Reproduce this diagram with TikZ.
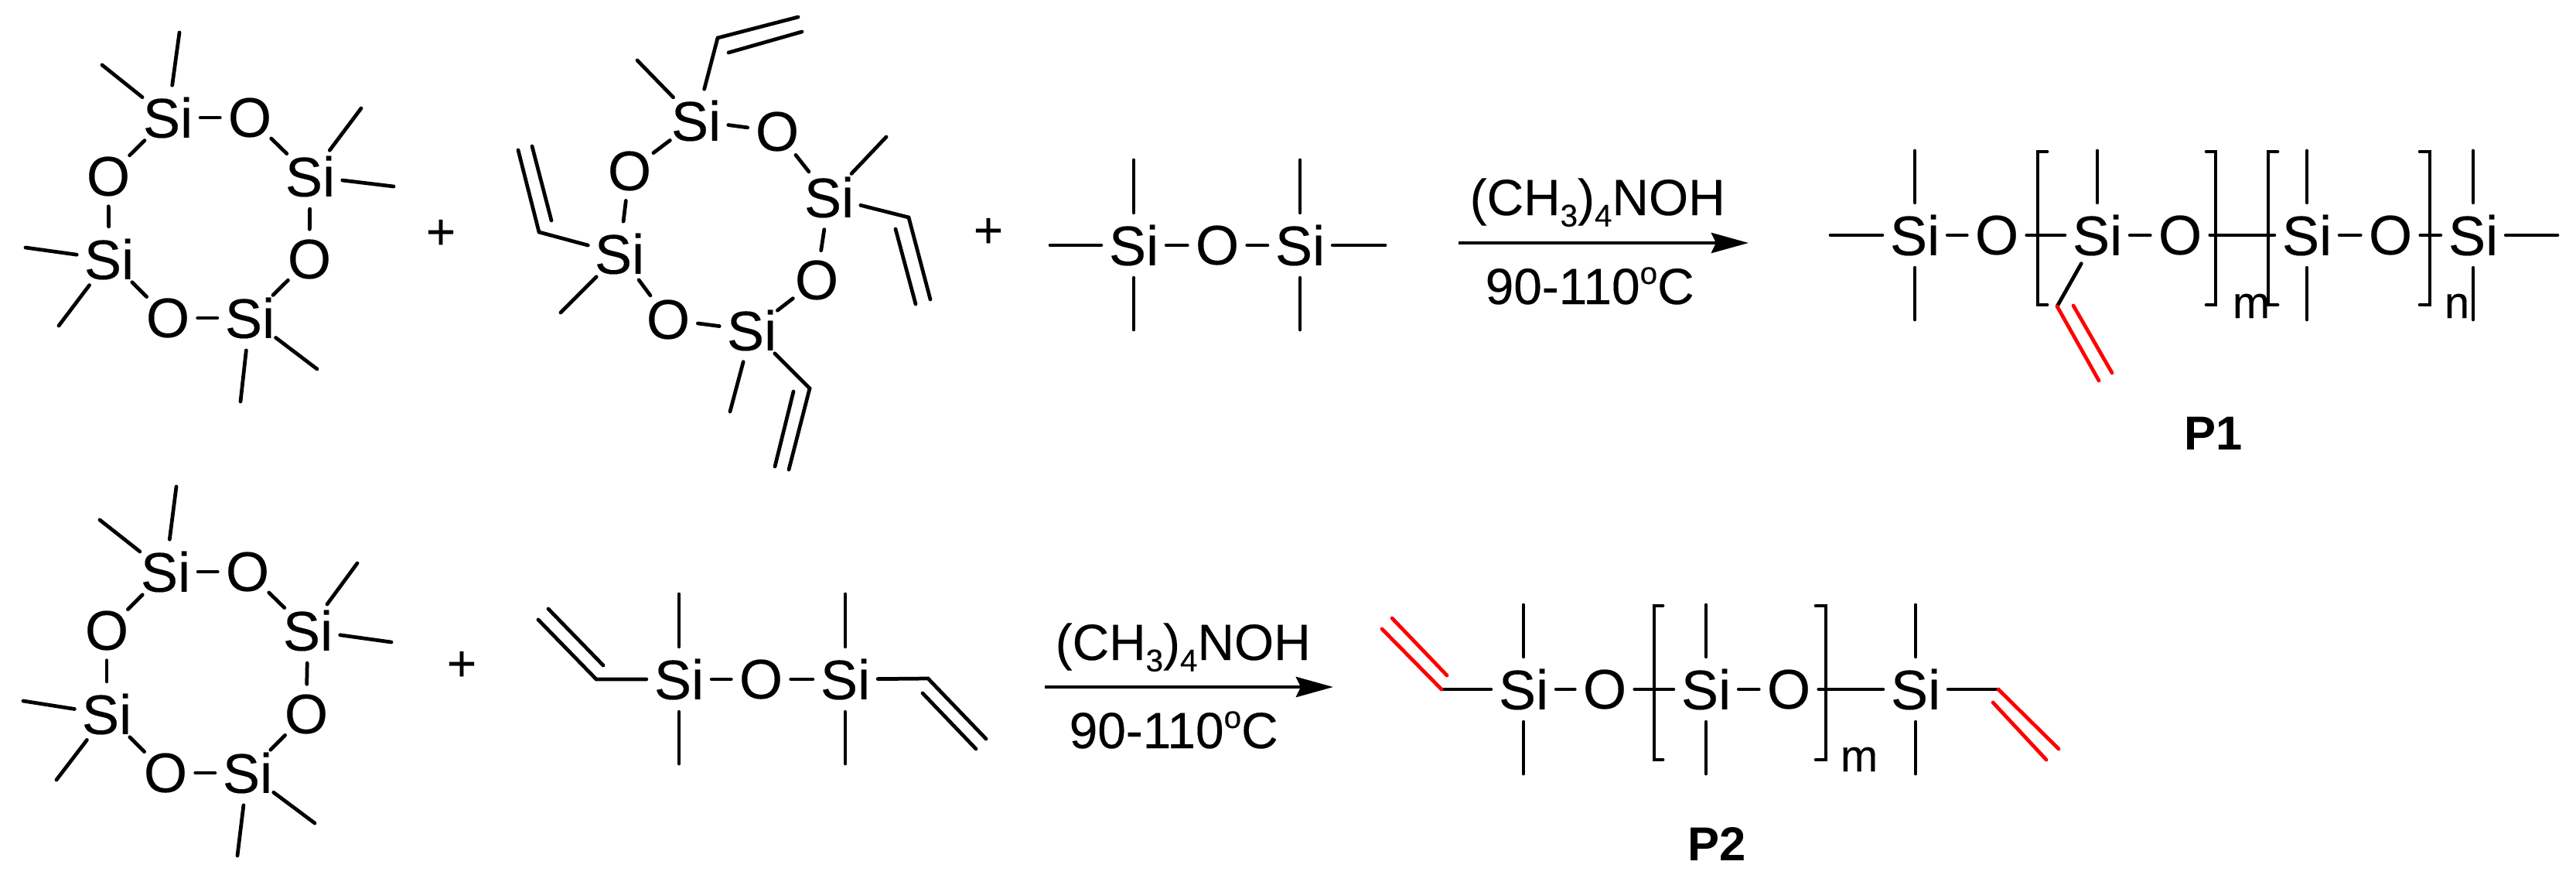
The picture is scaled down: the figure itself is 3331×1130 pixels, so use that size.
\documentclass[tikz,border=0pt]{standalone}
\usepackage{fontspec}
\setmainfont{Liberation Sans}
\newfontfamily\heavyfont[FakeBold=0.25]{Liberation Sans}
\usetikzlibrary{arrows.meta}
\definecolor{vinylred}{RGB}{255,0,0}
\newlength{\pxu}\setlength{\pxu}{0.01cm}
\newcommand{\subdigit}[1]{\raisebox{-14.7\pxu}{\fontsize{11.5pt}{11.5pt}\selectfont #1}}
\newcommand{\reagent}{(CH\subdigit{3})\subdigit{4}NOH}
\newcommand{\temper}{90-110\raisebox{26\pxu}{\fontsize{11.5pt}{11.5pt}\selectfont o}C}
\tikzset{
  atom/.style={circle,inner sep=0pt,minimum size=0.76cm,font=\heavyfont\fontsize{20.5pt}{20.5pt}\selectfont},
  bond/.style={line width=1.35pt,line cap=round},
  vinyl/.style={line width=1.35pt,line cap=round,draw=vinylred},
  plain/.style={inner sep=0pt,font=\heavyfont\fontsize{18.7pt}{18.7pt}\selectfont},
  rxn/.style={line width=1.4pt,-{Stealth[length=0.48cm,width=0.26cm,inset=0.06cm]}},
  subs/.style={inner sep=0pt,anchor=base,font=\heavyfont\fontsize{16.5pt}{16.5pt}\selectfont},
  tag/.style={inner sep=0pt,font=\fontsize{17.5pt}{17.5pt}\selectfont\bfseries},
}
\begin{document}
\begin{tikzpicture}[x=0.01cm,y=-0.01cm]
\useasboundingbox (0,0) rectangle (3331,1130);

% --- ring 1
\node[atom] (aSiT) at (217,152) {Si};
\node[atom] (aOT)  at (323,152) {O};
\node[atom] (aSiR) at (401,228) {Si};
\node[atom] (aOL)  at (140,228) {O};
\node[atom] (aSiL) at (141,335) {Si};
\node[atom] (aOR)  at (400,335) {O};
\node[atom] (aOB)  at (217,411) {O};
\node[atom] (aSiB) at (323,411) {Si};
\draw[bond] (aSiT)--(aOT); \draw[bond] (aOT)--(aSiR); \draw[bond] (aSiR)--(aOR);
\draw[bond] (aOR)--(aSiB); \draw[bond] (aSiB)--(aOB); \draw[bond] (aOB)--(aSiL);
\draw[bond] (aSiL)--(aOL); \draw[bond] (aOL)--(aSiT);
\coordinate (am1) at (132,84);  \coordinate (am2) at (232,42);
\coordinate (am3) at (467,140); \coordinate (am4) at (509,241);
\coordinate (am5) at (33,320);  \coordinate (am6) at (76,421);
\coordinate (am7) at (311,519); \coordinate (am8) at (410,477);
\draw[bond] (aSiT)--(am1); \draw[bond] (aSiT)--(am2);
\draw[bond] (aSiR)--(am3); \draw[bond] (aSiR)--(am4);
\draw[bond] (aSiL)--(am5); \draw[bond] (aSiL)--(am6);
\draw[bond] (aSiB)--(am7); \draw[bond] (aSiB)--(am8);
\node[plain] (plusA) at (570,303) {+};

% --- ring 2 with vinyls
\node[atom] (bSiT) at (900,156) {Si};
\node[atom] (bOT)  at (1005,170) {O};
\node[atom] (bSiR) at (1072,255) {Si};
\node[atom] (bOL)  at (814,221) {O};
\node[atom] (bSiL) at (801,328) {Si};
\node[atom] (bOR)  at (1056,362) {O};
\node[atom] (bOB)  at (864,413) {O};
\node[atom] (bSiB) at (972,427) {Si};
\draw[bond] (bSiT)--(bOT); \draw[bond] (bOT)--(bSiR); \draw[bond] (bSiR)--(bOR);
\draw[bond] (bOR)--(bSiB); \draw[bond] (bSiB)--(bOB); \draw[bond] (bOB)--(bSiL);
\draw[bond] (bSiL)--(bOL); \draw[bond] (bOL)--(bSiT);
\coordinate (bm1) at (824,78);  \coordinate (bm2) at (1146,177);
\coordinate (bm3) at (725,404); \coordinate (bm4) at (944,532);
\draw[bond] (bSiT)--(bm1); \draw[bond] (bSiR)--(bm2);
\draw[bond] (bSiL)--(bm3); \draw[bond] (bSiB)--(bm4);
\coordinate (bv1a) at (928,49);  \coordinate (bv1b) at (1032,22);
\coordinate (bv1c) at (942,68);  \coordinate (bv1d) at (1037,41);
\draw[bond] (bSiT)--(bv1a)--(bv1b); \draw[bond] (bv1c)--(bv1d);
\coordinate (bv2a) at (697,300); \coordinate (bv2b) at (670,194);
\coordinate (bv2c) at (713,285); \coordinate (bv2d) at (688,189);
\draw[bond] (bSiL)--(bv2a)--(bv2b); \draw[bond] (bv2c)--(bv2d);
\coordinate (bv3a) at (1047,502); \coordinate (bv3b) at (1020,607);
\coordinate (bv3c) at (1026,506); \coordinate (bv3d) at (1002,603);
\draw[bond] (bSiB)--(bv3a)--(bv3b); \draw[bond] (bv3c)--(bv3d);
\coordinate (bv4a) at (1175,281); \coordinate (bv4b) at (1203,387);
\coordinate (bv4c) at (1158,296); \coordinate (bv4d) at (1184,393);
\draw[bond] (bSiR)--(bv4a)--(bv4b); \draw[bond] (bv4c)--(bv4d);
\node[plain] (plusB) at (1278,301) {+};

% --- disiloxane
\node[atom] (cSi1) at (1466,317) {Si};
\node[atom] (cO)   at (1574,317) {O};
\node[atom] (cSi2) at (1681,317) {Si};
\draw[bond] (cSi1)--(cO); \draw[bond] (cO)--(cSi2);
\coordinate (cL) at (1358,317); \coordinate (cR) at (1791,317);
\coordinate (cT1) at (1466,207); \coordinate (cB1) at (1466,426);
\coordinate (cT2) at (1681,207); \coordinate (cB2) at (1681,426);
\draw[bond] (cSi1)--(cL); \draw[bond] (cSi2)--(cR);
\draw[bond] (cSi1)--(cT1); \draw[bond] (cSi1)--(cB1);
\draw[bond] (cSi2)--(cT2); \draw[bond] (cSi2)--(cB2);

% --- arrow 1
\coordinate (ar1s) at (1886,314); \coordinate (ar1e) at (2261,314);
\draw[rxn] (ar1s)--(ar1e);
\node[plain,anchor=base west] (rg1) at (1900,278) {\reagent};
\node[plain,anchor=base west] (tp1) at (1920,393) {\temper};

% --- P1
\node[atom] (dSi1) at (2476,304) {Si};
\node[atom] (dO1)  at (2582,304) {O};
\node[atom] (dSi2) at (2712,304) {Si};
\node[atom] (dO2)  at (2819,304) {O};
\node[atom] (dSi3) at (2983,304) {Si};
\node[atom] (dO3)  at (3091,304) {O};
\node[atom] (dSi4) at (3198,304) {Si};
\draw[bond] (dSi1)--(dO1); \draw[bond] (dO1)--(dSi2); \draw[bond] (dSi2)--(dO2);
\draw[bond] (dO2)--(dSi3); \draw[bond] (dSi3)--(dO3); \draw[bond] (dO3)--(dSi4);
\coordinate (dL) at (2367,304); \coordinate (dR) at (3307,304);
\draw[bond] (dSi1)--(dL); \draw[bond] (dSi4)--(dR);
\coordinate (dT1) at (2476,195); \coordinate (dB1) at (2476,413);
\coordinate (dT2) at (2712,195);
\coordinate (dT3) at (2983,195); \coordinate (dB3) at (2983,413);
\coordinate (dT4) at (3198,195); \coordinate (dB4) at (3198,413);
\draw[bond] (dSi1)--(dT1); \draw[bond] (dSi1)--(dB1); \draw[bond] (dSi2)--(dT2);
\draw[bond] (dSi3)--(dT3); \draw[bond] (dSi3)--(dB3);
\draw[bond] (dSi4)--(dT4); \draw[bond] (dSi4)--(dB4);
\coordinate (dv0) at (2660,396); \coordinate (dv1) at (2714,492);
\coordinate (dv2) at (2681,395); \coordinate (dv3) at (2731,482);
\draw[bond] (dSi2)--(dv0);
\draw[vinyl] (dv0)--(dv1); \draw[vinyl] (dv2)--(dv3);
\coordinate (db1a) at (2647,196); \coordinate (db1b) at (2635,196);
\coordinate (db1c) at (2635,394); \coordinate (db1d) at (2647,394);
\draw[bond] (db1a)--(db1b)--(db1c)--(db1d);
\coordinate (db2a) at (2853,196); \coordinate (db2b) at (2865,196);
\coordinate (db2c) at (2865,394); \coordinate (db2d) at (2853,394);
\draw[bond] (db2a)--(db2b)--(db2c)--(db2d);
\coordinate (db3a) at (2945,196); \coordinate (db3b) at (2933,196);
\coordinate (db3c) at (2933,394); \coordinate (db3d) at (2945,394);
\draw[bond] (db3a)--(db3b)--(db3c)--(db3d);
\coordinate (db4a) at (3129,196); \coordinate (db4b) at (3142,196);
\coordinate (db4c) at (3142,394); \coordinate (db4d) at (3129,394);
\draw[bond] (db4a)--(db4b)--(db4c)--(db4d);
\node[subs] (dm) at (2911,411) {m};
\node[subs] (dn) at (3177,411) {n};
\node[tag] (p1) at (2862,560) {P1};

% --- ring 3
\node[atom] (eSiT) at (214,739) {Si};
\node[atom] (eOT)  at (320,739) {O};
\node[atom] (eSiR) at (398,815) {Si};
\node[atom] (eOL)  at (138,815) {O};
\node[atom] (eSiL) at (138,923) {Si};
\node[atom] (eOR)  at (396,923) {O};
\node[atom] (eOB)  at (214,999) {O};
\node[atom] (eSiB) at (320,999) {Si};
\draw[bond] (eSiT)--(eOT); \draw[bond] (eOT)--(eSiR); \draw[bond] (eSiR)--(eOR);
\draw[bond] (eOR)--(eSiB); \draw[bond] (eSiB)--(eOB); \draw[bond] (eOB)--(eSiL);
\draw[bond] (eSiL)--(eOL); \draw[bond] (eOL)--(eSiT);
\coordinate (em1) at (129,672);  \coordinate (em2) at (228,629);
\coordinate (em3) at (462,728);  \coordinate (em4) at (506,830);
\coordinate (em5) at (30,906);   \coordinate (em6) at (73,1008);
\coordinate (em7) at (307,1106); \coordinate (em8) at (407,1064);
\draw[bond] (eSiT)--(em1); \draw[bond] (eSiT)--(em2);
\draw[bond] (eSiR)--(em3); \draw[bond] (eSiR)--(em4);
\draw[bond] (eSiL)--(em5); \draw[bond] (eSiL)--(em6);
\draw[bond] (eSiB)--(em7); \draw[bond] (eSiB)--(em8);
\node[plain] (plusC) at (597,861) {+};

% --- divinyl disiloxane
\node[atom] (fSi1) at (878,878) {Si};
\node[atom] (fO)   at (984,878) {O};
\node[atom] (fSi2) at (1093,878) {Si};
\draw[bond] (fSi1)--(fO); \draw[bond] (fO)--(fSi2);
\coordinate (fT1) at (878,768);  \coordinate (fB1) at (878,987);
\coordinate (fT2) at (1093,768); \coordinate (fB2) at (1093,987);
\draw[bond] (fSi1)--(fT1); \draw[bond] (fSi1)--(fB1);
\draw[bond] (fSi2)--(fT2); \draw[bond] (fSi2)--(fB2);
\coordinate (fv1a) at (771,878);  \coordinate (fv1b) at (696,801);
\coordinate (fv1c) at (780,860);  \coordinate (fv1d) at (709,787);
\draw[bond] (fSi1)--(fv1a)--(fv1b); \draw[bond] (fv1c)--(fv1d);
\coordinate (fv2a) at (1200,877); \coordinate (fv2b) at (1275,955);
\coordinate (fv2c) at (1193,896); \coordinate (fv2d) at (1262,968);
\draw[bond] (fSi2)--(fv2a)--(fv2b); \draw[bond] (fv2c)--(fv2d);

% --- arrow 2
\coordinate (ar2s) at (1351,888); \coordinate (ar2e) at (1724,888);
\draw[rxn] (ar2s)--(ar2e);
\node[plain,anchor=base west] (rg2) at (1364,853) {\reagent};
\node[plain,anchor=base west] (tp2) at (1382,967) {\temper};

% --- P2
\node[atom] (gSi1) at (1970,891) {Si};
\node[atom] (gO1)  at (2075,891) {O};
\node[atom] (gSi2) at (2206,891) {Si};
\node[atom] (gO2)  at (2313,891) {O};
\node[atom] (gSi3) at (2477,891) {Si};
\draw[bond] (gSi1)--(gO1); \draw[bond] (gO1)--(gSi2); \draw[bond] (gSi2)--(gO2); \draw[bond] (gO2)--(gSi3);
\coordinate (gT1) at (1970,782); \coordinate (gB1) at (1970,1000);
\coordinate (gT2) at (2206,782); \coordinate (gB2) at (2206,1000);
\coordinate (gT3) at (2477,782); \coordinate (gB3) at (2477,1000);
\draw[bond] (gSi1)--(gT1); \draw[bond] (gSi1)--(gB1);
\draw[bond] (gSi2)--(gT2); \draw[bond] (gSi2)--(gB2);
\draw[bond] (gSi3)--(gT3); \draw[bond] (gSi3)--(gB3);
\coordinate (gv1a) at (1864,891); \coordinate (gv1b) at (1787,813);
\coordinate (gv1c) at (1871,873); \coordinate (gv1d) at (1800,799);
\draw[bond] (gSi1)--(gv1a);
\draw[vinyl] (gv1a)--(gv1b); \draw[vinyl] (gv1c)--(gv1d);
\coordinate (gv2a) at (2584,891); \coordinate (gv2b) at (2662,968);
\coordinate (gv2c) at (2577,908); \coordinate (gv2d) at (2646,982);
\draw[bond] (gSi3)--(gv2a);
\draw[vinyl] (gv2a)--(gv2b); \draw[vinyl] (gv2c)--(gv2d);
\coordinate (gb1a) at (2150,783); \coordinate (gb1b) at (2139,783);
\coordinate (gb1c) at (2139,982); \coordinate (gb1d) at (2150,982);
\draw[bond] (gb1a)--(gb1b)--(gb1c)--(gb1d);
\coordinate (gb2a) at (2348,783); \coordinate (gb2b) at (2361,783);
\coordinate (gb2c) at (2361,982); \coordinate (gb2d) at (2348,982);
\draw[bond] (gb2a)--(gb2b)--(gb2c)--(gb2d);
\node[subs] (gm) at (2404,997) {m};
\node[tag] (p2) at (2220,1091) {P2};
\end{tikzpicture}
\end{document}
